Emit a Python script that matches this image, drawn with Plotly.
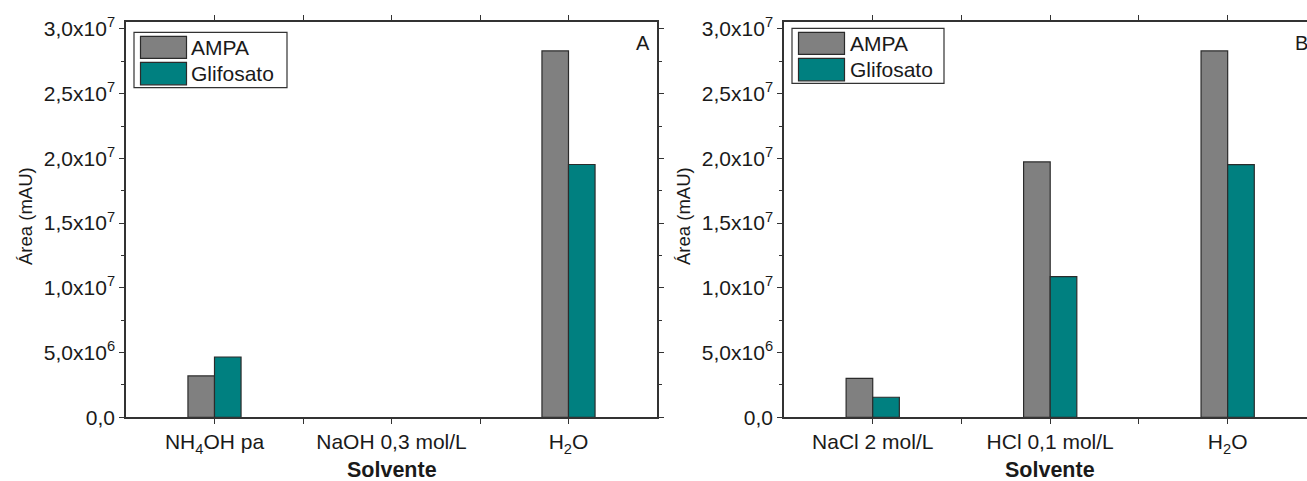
import plotly.graph_objects as go

# Solvent extraction results: peak areas (mAU) for AMPA and glyphosate
solvents_a = ["NH<sub>4</sub>OH pa", "NaOH 0,3 mol/L", "H<sub>2</sub>O"]
ampa_a = [3.2e6, 0.0, 2.83e7]
glifosato_a = [4.66e6, 0.0, 1.953e7]

solvents_b = ["NaCl 2 mol/L", "HCl 0,1 mol/L", "H<sub>2</sub>O"]
ampa_b = [3.0e6, 1.973e7, 2.83e7]
glifosato_b = [1.55e6, 1.087e7, 1.952e7]

y_tickvals = [0, 5e6, 1e7, 1.5e7, 2e7, 2.5e7, 3e7]
y_ticktext = ["0,0", "5,0x10<sup>6</sup>", "1,0x10<sup>7</sup>", "1,5x10<sup>7</sup>",
              "2,0x10<sup>7</sup>", "2,5x10<sup>7</sup>", "3,0x10<sup>7</sup>"]
series_names = ["AMPA", "Glifosato"]

GRAY = "#808080"
TEAL = "#008080"
EDGE = "#2b2b2b"
AXIS = "#333333"
TXT = "#1a1a1a"
FONT = "Liberation Sans, Arial, sans-serif"

W, H = 1307, 481
fig = go.Figure()

panels = [
    ("x", "y", solvents_a, ampa_a, glifosato_a),
    ("x2", "y2", solvents_b, ampa_b, glifosato_b),
]
for xa, ya, cats, amp, gli in panels:
    pos = list(range(len(cats)))
    for name, vals, color in zip(series_names, (amp, gli), (GRAY, TEAL)):
        fig.add_trace(go.Bar(
            x=pos, y=vals, name=name, xaxis=xa, yaxis=ya, showlegend=False,
            marker=dict(color=color,
                        line=dict(color=EDGE, width=[0 if v == 0 else 1.2 for v in vals])),
        ))

y_dom = [(H - 417.3) / H, (H - 21.7) / H]
x_dom_a = [126 / W, 657 / W]
x_dom_b = [784 / W, 1.0]


def xaxis_cfg(cats, rng, anchor, dom):
    return dict(
        domain=dom, range=rng, anchor=anchor, automargin=False,
        tickvals=list(range(len(cats))), ticktext=cats,
        ticks="outside", ticklen=5, tickwidth=1.3, tickcolor=AXIS,
        minor=dict(tickvals=[0.5, 1.5], ticks="outside", ticklen=5,
                   tickwidth=1.3, tickcolor=AXIS),
        showline=True, linecolor=AXIS, linewidth=1.5, mirror="allticks",
        showgrid=False, zeroline=False,
        tickfont=dict(family=FONT, size=21, color=TXT),
    )


def yaxis_cfg(anchor, mirror):
    return dict(
        domain=y_dom, range=[0, 3.056e7], anchor=anchor, automargin=False,
        tickvals=y_tickvals, ticktext=y_ticktext,
        ticks="outside", ticklen=5, tickwidth=1.3, tickcolor=AXIS,
        minor=dict(dtick=2.5e6, tick0=0, ticks="outside", ticklen=3,
                   tickwidth=1.3, tickcolor=AXIS),
        showline=True, linecolor=AXIS, linewidth=1.5, mirror=mirror,
        showgrid=False, zeroline=False,
        tickfont=dict(family=FONT, size=21, color=TXT),
    )


fig.update_layout(
    width=W, height=H,
    margin=dict(l=0, r=0, t=0, b=0, autoexpand=False),
    paper_bgcolor="white", plot_bgcolor="white",
    barmode="group", bargap=0.7, bargroupgap=0,
    xaxis=xaxis_cfg(solvents_a, [-0.5, 2.5], "y", x_dom_a),
    yaxis=yaxis_cfg("x", "allticks"),
    xaxis2=xaxis_cfg(solvents_b, [-0.5, 2.447], "y2", x_dom_b),
    yaxis2=yaxis_cfg("x2", False),
    font=dict(family=FONT, color=TXT),
)


def px_note(text, x, y, size, angle=0, xanchor="center"):
    # annotation positioned in figure pixels (origin top-left)
    return dict(text=text, x=x / W, y=1 - y / H, xref="paper", yref="paper",
                xanchor=xanchor, yanchor="middle", textangle=angle,
                showarrow=False, font=dict(family=FONT, size=size, color=TXT))


annotations = []
shapes = []
for y_title_x, letter_x, letter, title_x in ((25, 643, "A", 392), (683, 1301, "B", 1050)):
    annotations.append(px_note("Área (mAU)", y_title_x, 216, 18.5, angle=-90))
    annotations.append(px_note(letter, letter_x, 43, 20))
    annotations.append(px_note("<b>Solvente</b>", title_x, 470, 21.5))

# Legend boxes (pixel layout)
for (bx0, by0, bx1, by1) in ((134, 32.3, 287, 87.7), (792, 28.3, 944, 83.3)):
    shapes.append(dict(type="rect", xref="paper", yref="paper",
                       x0=bx0 / W, x1=bx1 / W, y0=1 - by0 / H, y1=1 - by1 / H,
                       line=dict(color=AXIS, width=1.2), fillcolor="white"))
    sw_x0, sw_x1 = bx0 + 6.5, bx0 + 52.5
    rows = [(by0 + 4, by0 + 26), (by0 + 30, by0 + 52.5)]
    for (ry0, ry1), name, color in zip(rows, series_names, (GRAY, TEAL)):
        shapes.append(dict(type="rect", xref="paper", yref="paper",
                           x0=sw_x0 / W, x1=sw_x1 / W, y0=1 - ry0 / H, y1=1 - ry1 / H,
                           line=dict(color=EDGE, width=1.2), fillcolor=color))
        annotations.append(px_note(name, sw_x1 + 3, (ry0 + ry1) / 2, 21, xanchor="left"))

fig.update_layout(annotations=annotations, shapes=shapes)

fig.write_html("out.html")
